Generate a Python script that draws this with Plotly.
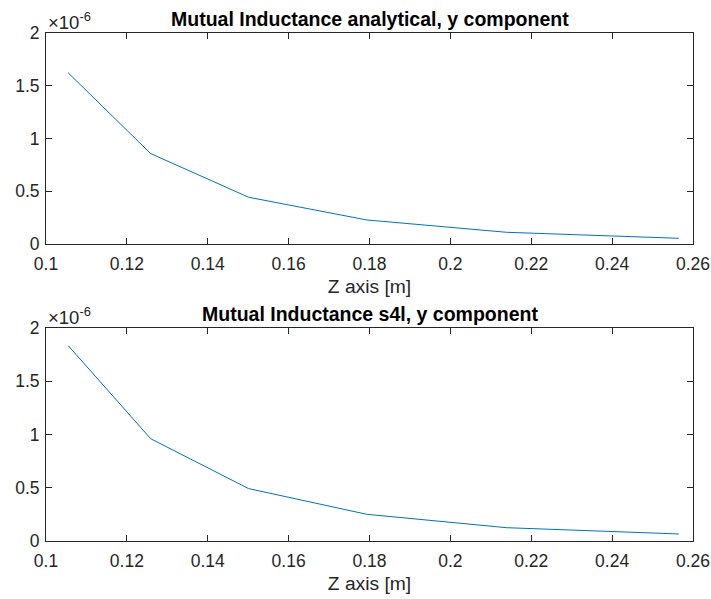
import plotly.graph_objects as go

z_vals = [0.1055, 0.1259, 0.1501, 0.1793, 0.2139, 0.2565]
m_analytical = [1.622e-6, 0.857e-6, 0.443e-6, 0.228e-6, 0.111e-6, 0.054e-6]
m_s4l = [1.834e-6, 0.960e-6, 0.492e-6, 0.251e-6, 0.125e-6, 0.066e-6]

titles = ["Mutual Inductance analytical, y component", "Mutual Inductance s4l, y component"]
x_tickvals = [0.1, 0.12, 0.14, 0.16, 0.18, 0.2, 0.22, 0.24, 0.26]
x_ticktext = ["0.1", "0.12", "0.14", "0.16", "0.18", "0.2", "0.22", "0.24", "0.26"]
y_tickvals = [0, 0.5e-6, 1e-6, 1.5e-6, 2e-6]
y_ticktext = ["0", "0.5", "1", "1.5", "2"]
x_label = "Z axis [m]"

W, H = 711, 599
ml, mr, mt, mb = 46, 18, 33, 58
plot_h = H - mt - mb
top_dom = [(541 - 244) / plot_h, 1.0]
bot_dom = [0.0, (541 - 328) / plot_h]

fam = "Liberation Sans, Arial, sans-serif"
axcol = "#262626"
tick_font = dict(family=fam, size=17.5, color=axcol)
label_font = dict(family=fam, size=19.25, color=axcol)

fig = go.Figure()
fig.add_trace(go.Scatter(x=z_vals, y=m_analytical, mode="lines",
                         line=dict(color="#0072BD", width=1), xaxis="x", yaxis="y"))
fig.add_trace(go.Scatter(x=z_vals, y=m_s4l, mode="lines",
                         line=dict(color="#0072BD", width=1), xaxis="x2", yaxis="y2"))

common_x = dict(range=[0.1, 0.26], tickvals=x_tickvals, ticktext=x_ticktext,
                ticks="inside", ticklen=6, tickcolor=axcol, mirror="ticks",
                showline=True, linecolor=axcol, linewidth=1, showgrid=False,
                zeroline=False, tickfont=tick_font, automargin=False,
                ticklabelstandoff=4,
                title=dict(text=x_label, font=label_font, standoff=6))
common_y = dict(range=[0, 2e-6], tickvals=y_tickvals, ticktext=y_ticktext,
                ticks="inside", ticklen=6, tickcolor=axcol, mirror="ticks",
                showline=True, linecolor=axcol, linewidth=1, showgrid=False,
                zeroline=False, tickfont=tick_font, automargin=False,
                ticklabelstandoff=2)

fig.update_layout(
    width=W, height=H,
    margin=dict(l=ml, r=mr, t=mt, b=mb),
    paper_bgcolor="white", plot_bgcolor="white",
    showlegend=False,
    xaxis=dict(domain=[0, 1], anchor="y", **common_x),
    yaxis=dict(domain=top_dom, anchor="x", **common_y),
    xaxis2=dict(domain=[0, 1], anchor="y2", **common_x),
    yaxis2=dict(domain=bot_dom, anchor="x2", **common_y),
    font=tick_font,
)

for dom, t in zip([top_dom, bot_dom], titles):
    fig.add_annotation(text="<b>" + t + "</b>", xref="paper", yref="paper",
                       x=0.5, y=dom[1], xanchor="center", yanchor="bottom",
                       yshift=1, showarrow=False,
                       font=dict(family=fam, size=19.5, color="black"))
    fig.add_annotation(text="×10<sup>-6</sup>", xref="paper", yref="paper",
                       x=0, y=dom[1], xanchor="left", yanchor="bottom",
                       yshift=-2, showarrow=False,
                       font=dict(family=fam, size=18.5, color=axcol))

fig.write_html("out.html")
